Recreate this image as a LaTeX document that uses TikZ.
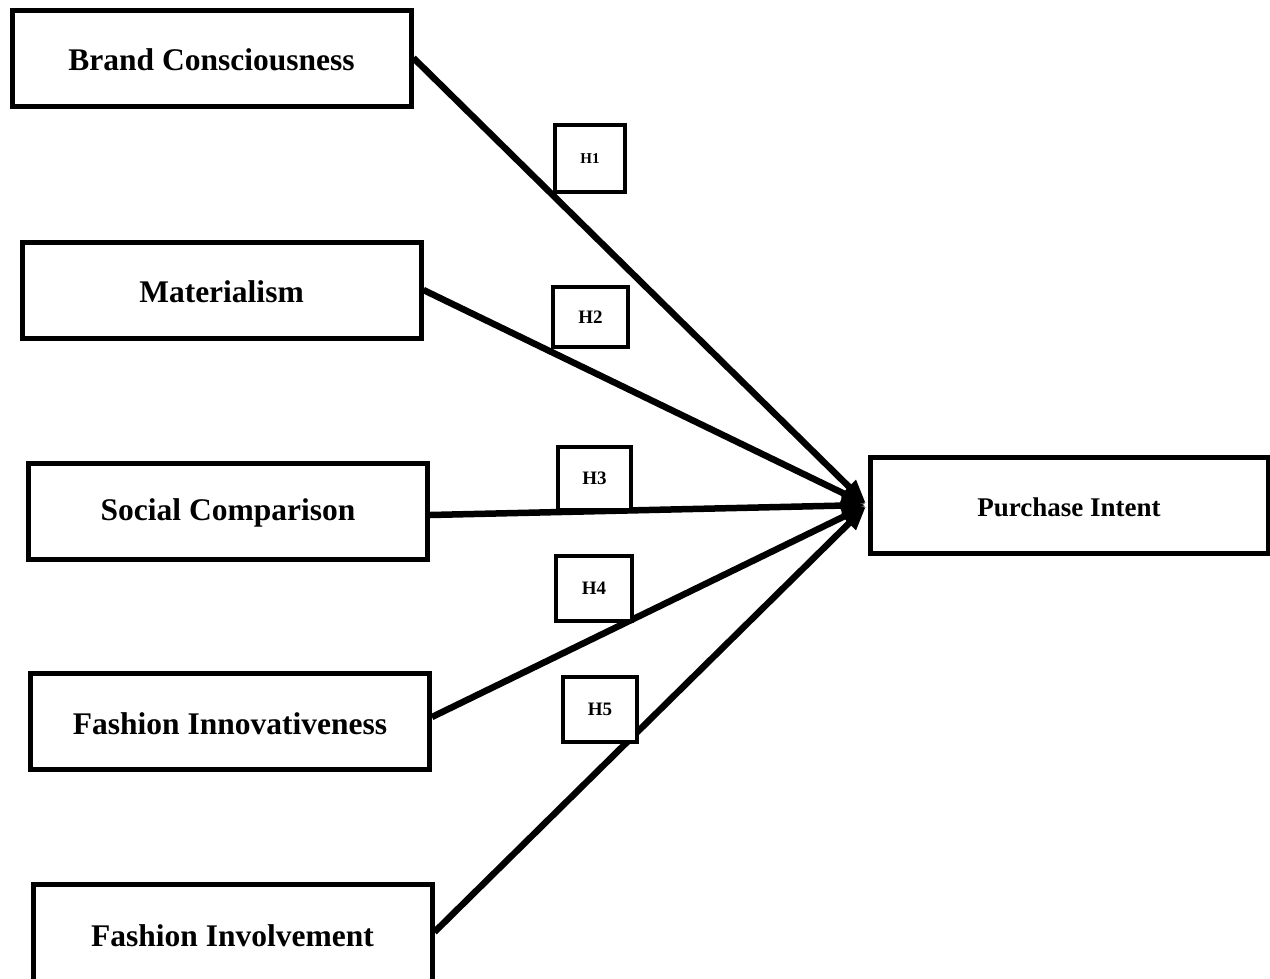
\documentclass[tikz,border=0pt]{standalone}
\usepackage{fontspec}
\setmainfont{Liberation Serif}
\usetikzlibrary{arrows.meta}
\begin{document}
\begin{tikzpicture}[x=1pt,y=-1pt,
  varbox/.style={draw=black,line width=5pt,fill=white,minimum width=399pt,minimum height=96pt,inner sep=0pt,font=\fontsize{31.5}{36}\selectfont\bfseries},
  hbox/.style={draw=black,line width=4.5pt,fill=white,inner sep=0pt,font=\fontsize{19}{22}\selectfont\bfseries},
  lbl/.style={font=\fontsize{31.5}{36}\selectfont\bfseries},
  path/.style={line width=6.5pt,shorten >=2pt,-{Triangle[length=24pt,width=18pt]}}]
\path[use as bounding box] (0,0) rectangle (1270,978);
\clip (0,0) rectangle (1270,978);
\fill[white] (0,0) rectangle (1270,978);
\node[varbox] (bc) at (211.5,58) {};
\node[lbl] at (211.5,60) {Brand Consciousness};
\node[varbox] (mat) at (221.5,290) {};
\node[lbl] at (221.5,292) {Materialism};
\node[varbox] (sc) at (228,511) {};
\node[lbl] at (228,513) {Social Comparison};
\node[varbox] (fin) at (230,721) {};
\node[lbl] at (230,724) {Fashion Innovativeness};
\node[varbox,minimum height=108pt] (fiv) at (232.5,938) {};
\coordinate (fivs) at ([yshift=6pt]fiv.east);
\node[lbl] at (232.5,936) {Fashion Involvement};
\node[varbox,minimum width=398pt] (pi) at (1069,505) {};
\node[font=\fontsize{27}{30}\selectfont\bfseries] at (1069,507) {Purchase Intent};
\draw[path] (bc.east) -- (pi.west);
\draw[path] (mat.east) -- (pi.west);
\draw[path] ([yshift=-4pt]sc.east) -- (pi.west);
\draw[path] ([yshift=4pt]fin.east) -- (pi.west);
\draw[path] (fivs) -- (pi.west);
\node[hbox,minimum width=70pt,minimum height=67pt,font=\fontsize{15}{18}\selectfont\bfseries] (h1) at (590,158.5) {H1};
\node[hbox,minimum width=75pt,minimum height=60pt] (h2) at (590.5,317) {H2};
\node[hbox,minimum width=73pt,minimum height=63pt] (h3) at (594.5,478.5) {H3};
\node[hbox,minimum width=76pt,minimum height=65pt] (h4) at (594,588.5) {H4};
\node[hbox,minimum width=74pt,minimum height=65pt] (h5) at (600,709.5) {H5};
\end{tikzpicture}
\end{document}
